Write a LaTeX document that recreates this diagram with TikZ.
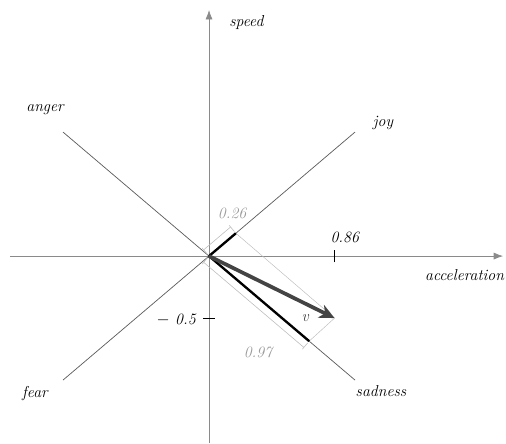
\documentclass[tikz,border=0pt]{standalone}
\usetikzlibrary{calc, positioning}
\usetikzlibrary{arrows.meta}

\definecolor{axisgray}{HTML}{8A8A8A}
\definecolor{diaggray}{HTML}{5A5A5A}
\definecolor{vecgray}{HTML}{444444}
\definecolor{dimgray}{HTML}{BDBDBD}
\definecolor{numgray}{HTML}{9A9A9A}

\tikzset{
  lbl/.style={font=\fontsize{13.5}{15}\selectfont\itshape, inner sep=1pt},
  dimline/.style={dimgray, line width=0.5pt},
}

\begin{document}
\begin{tikzpicture}[x=4.38cm, y=3.72cm]
\useasboundingbox (-1.4315,-1.508) rectangle (2.034,2.065);

\coordinate (O) at (0,0);
\coordinate (v) at (0.86,-0.5);
\coordinate (jp) at (0.184,0.184);
\coordinate (sp) at (0.686,-0.686);

% axes
\coordinate (xL) at (-1.363,0);
\coordinate (xR) at (2.014,0);
\coordinate (yB) at (0,-1.508);
\coordinate (yT) at (0,1.984);
\draw[axisgray, line width=0.6pt, -{Latex[length=8pt,width=6pt]}] (xL) -- (xR);
\draw[axisgray, line width=0.6pt, -{Latex[length=8pt,width=6pt]}] (yB) -- (yT);

% emotion diagonals
\coordinate (anger) at (-1,1);
\coordinate (joy) at (1,1);
\coordinate (fear) at (-1,-1);
\coordinate (sadness) at (1,-1);
\draw[diaggray, line width=0.6pt] (anger) -- (sadness);
\draw[diaggray, line width=0.6pt] (fear) -- (joy);

% ticks
\draw[black, line width=0.6pt] (0.86,-0.05) -- (0.86,0.05);
\draw[black, line width=0.6pt] (-0.04,-0.5) -- (0.04,-0.5);

% projection guides
\draw[dimline, line width=0.4pt] (jp) -- (v);
\draw[dimline, line width=0.4pt] (sp) -- (v);

% dimension for 0.26
\coordinate (jdA) at ($(O)!7pt!90:(jp)$);
\coordinate (jdB) at ($(jp)!7pt!-90:(O)$);
\draw[dimline] (jdA) -- (jdB);
\draw[dimline] ($(O)!2pt!90:(jp)$) -- ($(O)!9pt!90:(jp)$);
\draw[dimline] ($(jp)!2pt!-90:(O)$) -- ($(jp)!9pt!-90:(O)$);

% dimension for 0.97
\coordinate (sdA) at ($(O)!7pt!-90:(sp)$);
\coordinate (sdB) at ($(sp)!7pt!90:(O)$);
\draw[dimline] (sdA) -- (sdB);
\draw[dimline] ($(O)!2pt!-90:(sp)$) -- ($(O)!9pt!-90:(sp)$);
\draw[dimline] ($(sp)!2pt!90:(O)$) -- ($(sp)!9pt!90:(O)$);

% components
\draw[black, line width=2pt] (O) -- (jp);
\draw[black, line width=2pt] (O) -- (sp);

% vector
\draw[vecgray, line width=3.2pt, -{Stealth[length=13pt,width=12pt,inset=4pt]}] (O) -- (v);

% labels
\node[lbl, anchor=west] (speedLbl) at (0.13,1.887) {speed};
\node[lbl] (angerLbl) at (-1.123,1.177) {anger};
\node[lbl] (joyLbl) at (1.192,1.073) {joy};
\node[lbl] (fearLbl) at (-1.192,-1.105) {fear};
\node[lbl] (sadLbl) at (1.178,-1.089) {sadness};
\node[lbl, anchor=east] (accLbl) at (2.03,-0.153) {acceleration};
\node[lbl] (xtick) at (0.93,0.153) {0.86};
\node[lbl] (ytick) at (-0.225,-0.516) {$-$\ 0.5};
\node[lbl, numgray] (jLbl) at (0.158,0.347) {0.26};
\node[lbl, numgray] (sLbl) at (0.336,-0.774) {0.97};
\node[lbl, vecgray] (vLbl) at (0.658,-0.5) {v};
\end{tikzpicture}
\end{document}
